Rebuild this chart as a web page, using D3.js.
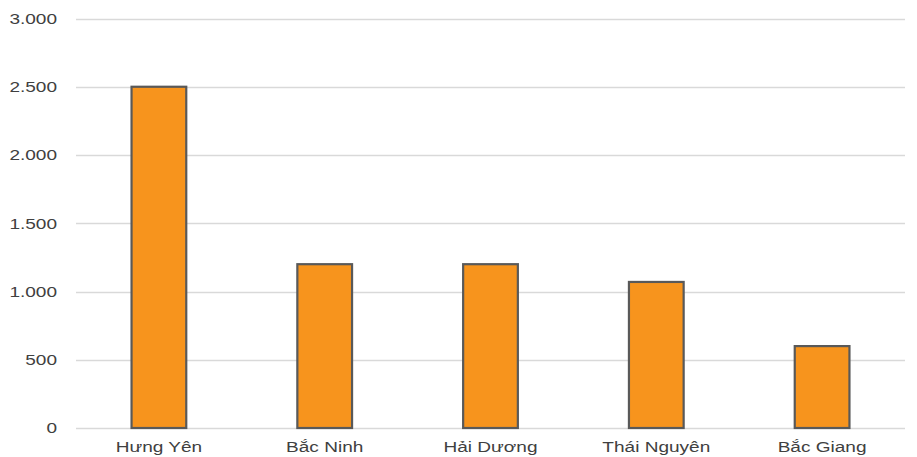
<!DOCTYPE html>
<html>
<head>
<meta charset="utf-8">
<script src="https://cdn.jsdelivr.net/npm/d3@7"></script>
<style>
  html, body { margin: 0; padding: 0; background: #fff; }
  svg { display: block; }
</style>
</head>
<body>
<svg id="chart" width="917" height="457"></svg>
<script>
// Provinces and their values
const provinces = ["Hưng Yên", "Bắc Ninh", "Hải Dương", "Thái Nguyên", "Bắc Giang"];
const values = [2500, 1200, 1200, 1070, 600];
const yTicks = [0, 500, 1000, 1500, 2000, 2500, 3000];

const width = 917, height = 457;
const margin = { top: 18.5, right: 12, bottom: 29, left: 76 };
const textStretch = 1.27;

const svg = d3.select("#chart");

const x = d3.scaleBand()
  .domain(provinces)
  .range([margin.left, width - margin.right])
  .paddingInner(0.67)
  .paddingOuter(0.335);

const y = d3.scaleLinear()
  .domain([0, 3000])
  .range([height - margin.bottom, margin.top]);

const fmt = v => d3.format(",")(v).replace(/,/g, ".");

// Horizontal gridlines
svg.append("g")
  .selectAll("line")
  .data(yTicks)
  .join("line")
  .attr("x1", margin.left)
  .attr("x2", width - margin.right)
  .attr("y1", d => Math.round(y(d)) + 0.5)
  .attr("y2", d => Math.round(y(d)) + 0.5)
  .attr("stroke", "#d9d9d9")
  .attr("stroke-width", 1.5);

// Y tick labels
svg.append("g")
  .selectAll("text")
  .data(yTicks)
  .join("text")
  .attr("transform", d => `translate(57,${y(d)}) scale(${textStretch},1)`)
  .attr("text-anchor", "end")
  .attr("dy", "0.35em")
  .attr("font-family", "Liberation Sans, Arial, sans-serif")
  .attr("font-size", 15)
  .attr("fill", "#404040")
  .text(fmt);

// Bars
svg.append("g")
  .selectAll("rect")
  .data(provinces)
  .join("rect")
  .attr("x", d => x(d))
  .attr("width", x.bandwidth())
  .attr("y", (d, i) => y(values[i]))
  .attr("height", (d, i) => y(0) - y(values[i]))
  .attr("fill", "#f7941d")
  .attr("stroke", "#595959")
  .attr("stroke-width", 2.2);

// Category labels
svg.append("g")
  .selectAll("text")
  .data(provinces)
  .join("text")
  .attr("transform", d => `translate(${x(d) + x.bandwidth() / 2},452) scale(${textStretch},1)`)
  .attr("text-anchor", "middle")
  .attr("font-family", "Liberation Sans, Arial, sans-serif")
  .attr("font-size", 15)
  .attr("fill", "#404040")
  .text(d => d);
</script>
</body>
</html>
